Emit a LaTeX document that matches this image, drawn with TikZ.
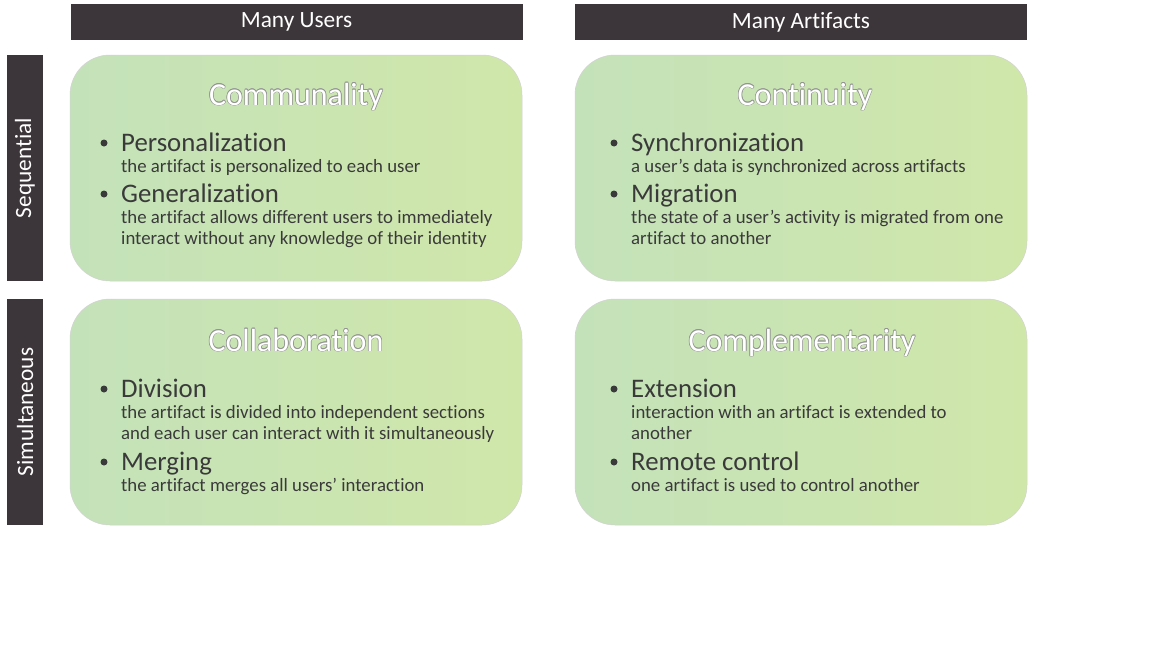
\documentclass[tikz,border=0pt]{standalone}
\usepackage{fontspec}
\setmainfont[Ligatures={NoCommon}]{Carlito}
\definecolor{hdrc}{RGB}{60,54,58}
\definecolor{txtc}{RGB}{58,58,58}
\definecolor{gleft}{RGB}{196,226,186}
\definecolor{gright}{RGB}{208,231,170}
\tikzset{
  hdrbox/.style={rectangle, fill=hdrc, text=white, inner sep=0pt,
    minimum width=452pt, minimum height=36pt, font=\fontsize{23.3}{26}\selectfont},
  sidebox/.style={rectangle, fill=hdrc, text=white, inner sep=0pt, rotate=90,
    minimum width=226pt, minimum height=36pt, font=\fontsize{23.3}{26}\selectfont},
  cell/.style={rectangle, rounded corners=40pt, left color=gleft, right color=gright,
    draw=gray!35, line width=0.5pt, minimum width=452pt, minimum height=226pt, inner sep=0pt},
  ttl/.style={anchor=base, inner sep=0pt, font=\fontsize{32}{36}\selectfont},
  head/.style={anchor=base west, inner sep=0pt, text=txtc, font=\fontsize{26.8}{30}\selectfont},
  desc/.style={anchor=base west, inner sep=0pt, text=txtc, font=\fontsize{18.8}{22}\selectfont},
}
\newcommand\outlinedtitle[3]{%
  \foreach \dx/\dy in {0.6/0,-0.6/0,0/0.6,0/-0.6,0.45/0.45,-0.45/0.45,0.45/-0.45,-0.45/-0.45}
    \node[ttl, text=gray!85] at ([shift={(\dx,\dy)}]#2) {#3};
  \node[ttl, text=white] (#1) at (#2) {#3};
}
\newcommand\bulletdot[1]{\fill[txtc] #1 circle (3.5pt);}
\begin{document}
\begin{tikzpicture}[x=1pt,y=-1pt]
\useasboundingbox (0,0) rectangle (1152,648);
\fill[white] (0,0) rectangle (1152,648);
% headers
\node[hdrbox] (h1) at (296.5,22) {Many Users};
\node[hdrbox] (h2) at (801,22) {Many Artifacts};
\node[sidebox] (s1) at (25,168) {Sequential};
\node[sidebox] (s2) at (25,412) {Simultaneous};
% cells
\node[cell] (c1) at (296,168) {};
\node[cell] (c2) at (801,168) {};
\node[cell] (c3) at (296,412) {};
\node[cell] (c4) at (801,412) {};
% titles
\outlinedtitle{t1}{296,105}{Communality}
\outlinedtitle{t2}{805,105}{Continuity}
\outlinedtitle{t3}{296,351}{Collaboration}
\outlinedtitle{t4}{802,351}{Complementarity}
% cell 1
\bulletdot{(104,143)}
\node[head] (p1) at (121,151) {Personalization};
\node[desc] (p1d) at (121,172) {the artifact is personalized to each user};
\bulletdot{(104,194)}
\node[head] (p2) at (121,202) {Generalization};
\node[desc] (p2d) at (121,223) {the artifact allows different users to immediately};
\node[desc] (p2e) at (121,244) {interact without any knowledge of their identity};
% cell 2
\bulletdot{(614,143)}
\node[head] (q1) at (631,151) {Synchronization};
\node[desc] (q1d) at (631,172) {a user’s data is synchronized across artifacts};
\bulletdot{(614,194)}
\node[head] (q2) at (631,202) {Migration};
\node[desc] (q2d) at (631,223) {the state of a user’s activity is migrated from one};
\node[desc] (q2e) at (631,244) {artifact to another};
% cell 3
\bulletdot{(104,389)}
\node[head] (r1) at (121,397) {Division};
\node[desc] (r1d) at (121,418) {the artifact is divided into independent sections};
\node[desc] (r1e) at (121,439) {and each user can interact with it simultaneously};
\bulletdot{(104,462)}
\node[head] (r2) at (121,470) {Merging};
\node[desc] (r2d) at (121,491) {the artifact merges all users’ interaction};
% cell 4
\bulletdot{(614,389)}
\node[head] (u1) at (631,397) {Extension};
\node[desc] (u1d) at (631,418) {interaction with an artifact is extended to};
\node[desc] (u1e) at (631,439) {another};
\bulletdot{(614,462)}
\node[head] (u2) at (631,470) {Remote control};
\node[desc] (u2d) at (631,491) {one artifact is used to control another};
\end{tikzpicture}
\end{document}
